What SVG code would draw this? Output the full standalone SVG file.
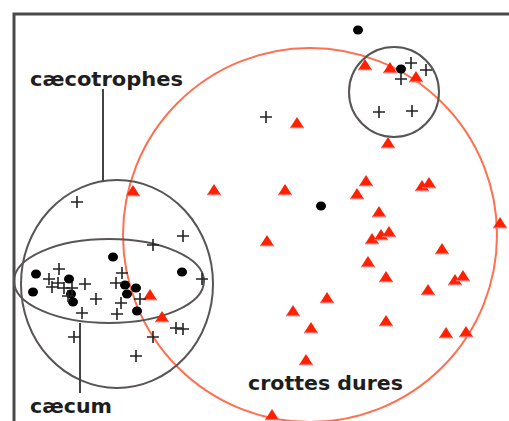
<svg xmlns="http://www.w3.org/2000/svg" xmlns:xlink="http://www.w3.org/1999/xlink" width="509" height="421" viewBox="0 0 509 421">
<style>
.frame{fill:none;stroke:#4a4a4a;stroke-width:3}
.gray{fill:none;stroke:#5a5555;stroke-width:2}
.red{fill:none;stroke:#ff7050;stroke-width:2}
.lead{fill:none;stroke:#444;stroke-width:2}
.lbl{font-family:"DejaVu Sans","Liberation Sans",sans-serif;font-weight:bold;font-size:19px;fill:#1e1e1e}
.dot{fill:#000}
.cross{fill:none;stroke:#222;stroke-width:1.6}
</style>
<defs>
<g id="tri"><path d="M0,-6 L7,5 L-7,5 Z" fill="#ff2000"/><path d="M-7,4.6 H7" stroke="#ff6a6a" stroke-width="1.4"/></g>
<path id="cr" class="cross" d="M-6,0 H6 M0,-6 V6"/>
<ellipse id="dt" class="dot" rx="5" ry="4.5"/>
</defs>
<rect width="509" height="421" fill="#fff"/>
<path class="frame" d="M14,421 V14 H509"/>

<g id="crottes-dures"><circle class="red" cx="310" cy="235" r="187"/></g>
<g id="caecotrophes"><ellipse class="gray" cx="117" cy="284" rx="96" ry="104"/></g>
<g id="caecum"><ellipse class="gray" cx="109" cy="281" rx="95" ry="42"/></g>
<g id="cluster-top"><circle class="gray" cx="394" cy="92" r="45"/></g>

<g id="connectors">
<path class="lead" d="M103,89 V181"/>
<path class="lead" d="M80,323 V393"/>
</g>

<g id="labels">
<text class="lbl" x="30" y="86" textLength="153" lengthAdjust="spacingAndGlyphs">cæcotrophes</text>
<text class="lbl" x="30" y="413" textLength="82" lengthAdjust="spacingAndGlyphs">cæcum</text>
<text class="lbl" x="248" y="390" textLength="155" lengthAdjust="spacingAndGlyphs">crottes dures</text>
</g>

<g id="triangles">
<use xlink:href="#tri" x="365" y="65"/><use xlink:href="#tri" x="390" y="68"/><use xlink:href="#tri" x="416" y="77"/>
<use xlink:href="#tri" x="297" y="123"/><use xlink:href="#tri" x="388" y="143"/>
<use xlink:href="#tri" x="133" y="191"/><use xlink:href="#tri" x="214" y="190"/><use xlink:href="#tri" x="285" y="190"/>
<use xlink:href="#tri" x="366" y="181"/><use xlink:href="#tri" x="357" y="194"/><use xlink:href="#tri" x="422" y="186"/><use xlink:href="#tri" x="429" y="183"/>
<use xlink:href="#tri" x="379" y="212"/>
<use xlink:href="#tri" x="267" y="241"/><use xlink:href="#tri" x="372" y="239"/><use xlink:href="#tri" x="381" y="235"/><use xlink:href="#tri" x="389" y="232"/>
<use xlink:href="#tri" x="500" y="223"/><use xlink:href="#tri" x="442" y="249"/><use xlink:href="#tri" x="368" y="262"/>
<use xlink:href="#tri" x="386" y="277"/><use xlink:href="#tri" x="455" y="280"/><use xlink:href="#tri" x="463" y="276"/>
<use xlink:href="#tri" x="428" y="290"/><use xlink:href="#tri" x="150" y="295"/><use xlink:href="#tri" x="327" y="298"/>
<use xlink:href="#tri" x="293" y="311"/><use xlink:href="#tri" x="162" y="317"/><use xlink:href="#tri" x="386" y="321"/>
<use xlink:href="#tri" x="311" y="328"/><use xlink:href="#tri" x="446" y="333"/><use xlink:href="#tri" x="466" y="332"/>
<use xlink:href="#tri" x="306" y="360"/><use xlink:href="#tri" x="272" y="415"/>
</g>

<g id="dots">
<use xlink:href="#dt" x="358" y="30"/><use xlink:href="#dt" x="321" y="206"/><use xlink:href="#dt" x="401" y="69"/>
<use xlink:href="#dt" x="113" y="257"/><use xlink:href="#dt" x="182" y="272"/>
<use xlink:href="#dt" x="36" y="274"/><use xlink:href="#dt" x="33" y="292"/><use xlink:href="#dt" x="69" y="279"/>
<use xlink:href="#dt" x="71" y="294"/><use xlink:href="#dt" x="73" y="302"/>
<use xlink:href="#dt" x="125" y="285"/><use xlink:href="#dt" x="136" y="288"/><use xlink:href="#dt" x="127" y="294"/><use xlink:href="#dt" x="137" y="311"/>
</g>

<g id="crosses">
<use xlink:href="#cr" x="266" y="117"/>
<use xlink:href="#cr" x="411" y="63"/><use xlink:href="#cr" x="426" y="70"/><use xlink:href="#cr" x="401" y="79"/>
<use xlink:href="#cr" x="379" y="112"/><use xlink:href="#cr" x="412" y="111"/>
<use xlink:href="#cr" x="77" y="202"/><use xlink:href="#cr" x="183" y="236"/><use xlink:href="#cr" x="153" y="245"/>
<use xlink:href="#cr" x="59" y="269"/><use xlink:href="#cr" x="49" y="279"/><use xlink:href="#cr" x="52" y="287"/>
<use xlink:href="#cr" x="58" y="283"/><use xlink:href="#cr" x="64" y="288"/><use xlink:href="#cr" x="68" y="296"/>
<use xlink:href="#cr" x="72" y="288"/>
<use xlink:href="#cr" x="85" y="284"/><use xlink:href="#cr" x="96" y="299"/><use xlink:href="#cr" x="82" y="313"/>
<use xlink:href="#cr" x="122" y="273"/><use xlink:href="#cr" x="116" y="283"/><use xlink:href="#cr" x="121" y="303"/>
<use xlink:href="#cr" x="117" y="314"/><use xlink:href="#cr" x="140" y="299"/><use xlink:href="#cr" x="202" y="279"/>
<use xlink:href="#cr" x="74" y="337"/><use xlink:href="#cr" x="136" y="356"/><use xlink:href="#cr" x="153" y="337"/>
<use xlink:href="#cr" x="176" y="328"/><use xlink:href="#cr" x="183" y="329"/>
</g>
</svg>
